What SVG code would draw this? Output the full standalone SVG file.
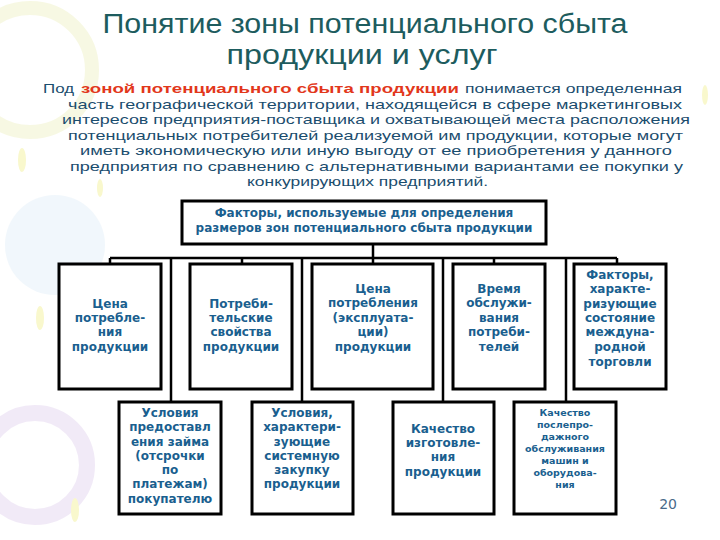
<svg xmlns="http://www.w3.org/2000/svg" width="720" height="540" viewBox="0 0 720 540">
<style>
.title{font-family:"Liberation Sans",Arial,sans-serif;font-size:27px;fill:#1d5c5e;text-anchor:middle}
.para{font-family:"Liberation Sans",Arial,sans-serif;font-size:13.5px;fill:#1b4d6e}
.red{font-weight:bold;fill:#e2371b}
.box{fill:#ffffff;stroke:#000000;stroke-width:3}
.bt{font-family:"DejaVu Sans",Verdana,sans-serif;font-size:12px;font-weight:bold;fill:#1a5f8f;text-anchor:middle}
.bs{font-family:"DejaVu Sans",Verdana,sans-serif;font-size:9.5px;font-weight:bold;fill:#1a5f8f;text-anchor:middle}
.conn{stroke:#000000;stroke-width:2.5;fill:none}
.pg{font-family:"DejaVu Sans",Verdana,sans-serif;font-size:14px;fill:#4a6a8a;text-anchor:end}
</style>
<rect x="0" y="0" width="720" height="540" fill="#ffffff"/>
<g id="decor" opacity="0.5">
<circle cx="30" cy="70" r="62" fill="none" stroke="#f1f3c8" stroke-width="14"/>
<circle cx="55" cy="245" r="50" fill="#e4f1fa"/>
<circle cx="35" cy="465" r="52" fill="none" stroke="#e5d6f1" stroke-width="16"/>
<ellipse cx="22" cy="160" rx="4" ry="12" fill="#f4f29c"/>
<ellipse cx="40" cy="318" rx="4" ry="12" fill="#f4f29c"/>
<ellipse cx="75" cy="510" rx="4" ry="12" fill="#f4f29c"/>
<ellipse cx="100" cy="188" rx="3" ry="9" fill="#f4f29c"/>
<ellipse cx="705" cy="95" rx="3" ry="10" fill="#f4f29c"/>
</g>
<g id="title">
<text class="title" x="365" y="33" textLength="525" lengthAdjust="spacingAndGlyphs">Понятие зоны потенциального сбыта</text>
<text class="title" x="362" y="64" textLength="271" lengthAdjust="spacingAndGlyphs">продукции и услуг</text>
</g>
<g id="definition" class="para">
<text x="43" y="93" textLength="31" lengthAdjust="spacingAndGlyphs">Под</text>
<text x="81" y="93" class="red" textLength="378" lengthAdjust="spacingAndGlyphs">зоной потенциального сбыта продукции</text>
<text x="465" y="93" textLength="217" lengthAdjust="spacingAndGlyphs">понимается определенная</text>
<text x="68" y="108.5" textLength="614" lengthAdjust="spacingAndGlyphs">часть географической территории, находящейся в сфере маркетинговых</text>
<text x="62" y="124" textLength="628" lengthAdjust="spacingAndGlyphs">интересов предприятия-поставщика и охватывающей места расположения</text>
<text x="68" y="139.5" textLength="615" lengthAdjust="spacingAndGlyphs">потенциальных потребителей реализуемой им продукции, которые могут</text>
<text x="80" y="155" textLength="592" lengthAdjust="spacingAndGlyphs">иметь экономическую или иную выгоду от ее приобретения у данного</text>
<text x="70" y="170.5" textLength="613" lengthAdjust="spacingAndGlyphs">предприятия по сравнению с альтернативными вариантами ее покупки у</text>
<text x="247" y="186" textLength="241" lengthAdjust="spacingAndGlyphs">конкурирующих предприятий.</text>
</g>
<g id="connectors" class="conn">
<path d="M373 244 V264"/>
<path d="M110 258 H617"/>
<path d="M110 258 V264 M242 258 V264 M494 258 V264 M617 258 V264"/>
<path d="M171 258 V402 M302 258 V402 M443 258 V402 M566 258 V402"/>
</g>
<g id="factors">
<rect class="box" x="182" y="201" width="364" height="43"/>
<text class="bt" x="364" y="217" font-size="11">Факторы, используемые для определения</text>
<text class="bt" x="364" y="232" font-size="11">размеров зон потенциального сбыта продукции</text>
</g>
<g id="price">
<rect class="box" x="59" y="264" width="102" height="125"/>
<text class="bt" x="110" y="308">Цена</text>
<text class="bt" x="110" y="322">потребле-</text>
<text class="bt" x="110" y="336">ния</text>
<text class="bt" x="110" y="351">продукции</text>
</g>
<g id="properties">
<rect class="box" x="190" y="264" width="102" height="125"/>
<text class="bt" x="241" y="308">Потреби-</text>
<text class="bt" x="241" y="322">тельские</text>
<text class="bt" x="241" y="336">свойства</text>
<text class="bt" x="241" y="351">продукции</text>
</g>
<g id="exploitation">
<rect class="box" x="312" y="264" width="121" height="125"/>
<text class="bt" x="373" y="293">Цена</text>
<text class="bt" x="373" y="307">потребления</text>
<text class="bt" x="373" y="322">(эксплуата-</text>
<text class="bt" x="373" y="336">ции)</text>
<text class="bt" x="373" y="351">продукции</text>
</g>
<g id="service-time">
<rect class="box" x="453" y="264" width="92" height="125"/>
<text class="bt" x="499" y="293">Время</text>
<text class="bt" x="499" y="307">обслужи-</text>
<text class="bt" x="499" y="322">вания</text>
<text class="bt" x="499" y="336">потреби-</text>
<text class="bt" x="499" y="351">телей</text>
</g>
<g id="trade">
<rect class="box" x="574" y="264" width="92" height="125"/>
<text class="bt" x="620" y="279">Факторы,</text>
<text class="bt" x="620" y="293">характе-</text>
<text class="bt" x="620" y="308">ризующие</text>
<text class="bt" x="620" y="322">состояние</text>
<text class="bt" x="620" y="336">междуна-</text>
<text class="bt" x="620" y="351">родной</text>
<text class="bt" x="620" y="366">торговли</text>
</g>
<g id="credit">
<rect class="box" x="119" y="402" width="102" height="112"/>
<text class="bt" x="170" y="417">Условия</text>
<text class="bt" x="170" y="431">предоставл</text>
<text class="bt" x="170" y="446">ения займа</text>
<text class="bt" x="170" y="460">(отсрочки</text>
<text class="bt" x="170" y="474">по</text>
<text class="bt" x="170" y="488">платежам)</text>
<text class="bt" x="170" y="503">покупателю</text>
</g>
<g id="system-purchase">
<rect class="box" x="252" y="402" width="101" height="112"/>
<text class="bt" x="302" y="417">Условия,</text>
<text class="bt" x="302" y="431">характери-</text>
<text class="bt" x="302" y="446">зующие</text>
<text class="bt" x="302" y="460">системную</text>
<text class="bt" x="302" y="474">закупку</text>
<text class="bt" x="302" y="488">продукции</text>
</g>
<g id="quality">
<rect class="box" x="393" y="402" width="101" height="112"/>
<text class="bt" x="443" y="433">Качество</text>
<text class="bt" x="443" y="447">изготовле-</text>
<text class="bt" x="443" y="461">ния</text>
<text class="bt" x="443" y="476">продукции</text>
</g>
<g id="aftersales">
<rect class="box" x="514" y="402" width="102" height="112"/>
<text class="bs" x="565" y="416">Качество</text>
<text class="bs" x="565" y="428">послепро-</text>
<text class="bs" x="565" y="440">дажного</text>
<text class="bs" x="565" y="452">обслуживания</text>
<text class="bs" x="565" y="464">машин и</text>
<text class="bs" x="565" y="476">оборудова-</text>
<text class="bs" x="565" y="488">ния</text>
</g>
<text class="pg" x="677" y="509">20</text>
</svg>
